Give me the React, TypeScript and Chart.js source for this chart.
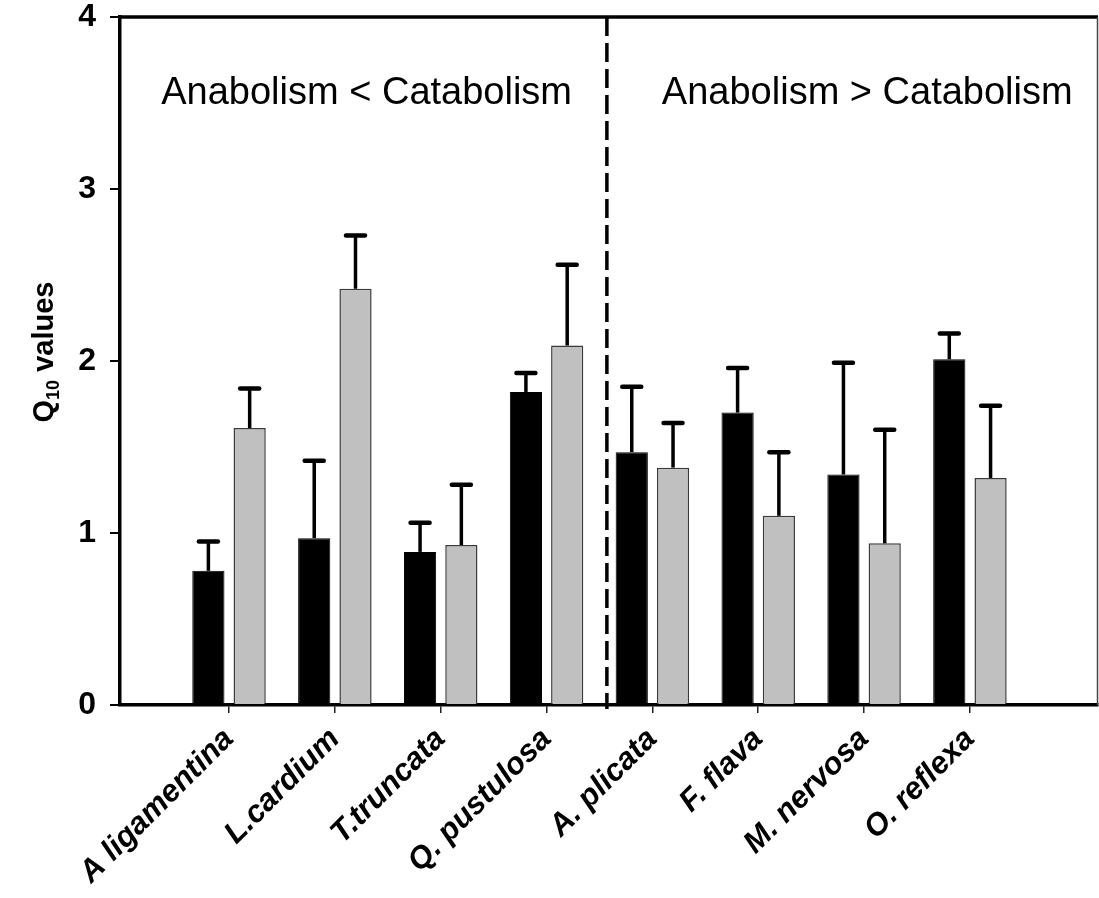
import React, { useEffect, useRef } from 'react';
import { Chart, registerables } from 'chart.js';

Chart.register(...registerables);

const categories = ['A ligamentina', 'L.cardium', 'T.truncata', 'Q. pustulosa', 'A. plicata', 'F. flava', 'M. nervosa', 'O. reflexa'];
const blackValues = [0.78, 0.97, 0.89, 1.82, 1.47, 1.70, 1.34, 2.01];
const blackErrors = [0.17, 0.45, 0.17, 0.11, 0.38, 0.26, 0.65, 0.15];
const grayValues = [1.61, 2.42, 0.93, 2.09, 1.38, 1.10, 0.94, 1.32];
const grayErrors = [0.23, 0.31, 0.35, 0.47, 0.26, 0.37, 0.66, 0.42];
const yTickValues = [0, 1, 2, 3, 4];
const regionLabels = ['Anabolism < Catabolism', 'Anabolism > Catabolism'];
const yTitleParts = ['Q', '10', ' values'];

const FONT = 'Arial, "Liberation Sans", sans-serif';

const errorBarsPlugin = {
  id: 'errorBars',
  afterDatasetsDraw(chart: any) {
    const { ctx } = chart;
    const yScale = chart.scales.y;
    const errs = [blackErrors, grayErrors];
    ctx.save();
    ctx.strokeStyle = '#000';
    chart.data.datasets.forEach((ds: any, d: number) => {
      const meta = chart.getDatasetMeta(d);
      meta.data.forEach((bar: any, i: number) => {
        const v = ds.data[i].y;
        const base = yScale.getPixelForValue(v);
        const top = yScale.getPixelForValue(v + errs[d][i]);
        ctx.lineCap = 'butt';
        ctx.lineWidth = 3.5;
        ctx.beginPath();
        ctx.moveTo(bar.x, base);
        ctx.lineTo(bar.x, top);
        ctx.stroke();
        ctx.lineCap = 'round';
        ctx.lineWidth = 4.5;
        ctx.beginPath();
        ctx.moveTo(bar.x - 9.5, top);
        ctx.lineTo(bar.x + 9.5, top);
        ctx.stroke();
      });
    });
    ctx.restore();
  },
};

const framePlugin = {
  id: 'frame',
  afterDraw(chart: any) {
    const { ctx, chartArea } = chart;
    const xScale = chart.scales.x;
    const yScale = chart.scales.y;
    ctx.save();
    // top border
    ctx.strokeStyle = '#000';
    ctx.lineWidth = 3.5;
    ctx.beginPath();
    ctx.moveTo(chartArea.left - 1.5, chartArea.top);
    ctx.lineTo(chartArea.right, chartArea.top);
    ctx.stroke();
    // right border
    ctx.strokeStyle = '#444';
    ctx.lineWidth = 1.5;
    ctx.beginPath();
    ctx.moveTo(chartArea.right - 0.5, chartArea.top);
    ctx.lineTo(chartArea.right - 0.5, chartArea.bottom);
    ctx.stroke();
    // dashed divider
    const dx = xScale.getPixelForValue(3.57);
    ctx.strokeStyle = '#000';
    ctx.lineWidth = 3.5;
    ctx.setLineDash([19, 7]);
    ctx.beginPath();
    ctx.moveTo(dx, chartArea.top);
    ctx.lineTo(dx, chartArea.bottom + 4);
    ctx.stroke();
    ctx.setLineDash([]);
    // region labels
    ctx.fillStyle = '#000';
    ctx.font = `38px ${FONT}`;
    ctx.textAlign = 'center';
    ctx.textBaseline = 'alphabetic';
    const ly = yScale.getPixelForValue(3.495);
    ctx.fillText(regionLabels[0], xScale.getPixelForValue(1.3), ly);
    ctx.fillText(regionLabels[1], xScale.getPixelForValue(6.03), ly);
    // y title with subscript
    ctx.translate(43, 352);
    ctx.rotate(-Math.PI / 2);
    const big = `bold 29px ${FONT}`;
    const small = `bold 18px ${FONT}`;
    ctx.font = big;
    const w1 = ctx.measureText(yTitleParts[0]).width;
    const w3 = ctx.measureText(yTitleParts[2]).width;
    ctx.font = small;
    const w2 = ctx.measureText(yTitleParts[1]).width;
    let sx = -(w1 + w2 + w3) / 2;
    ctx.textAlign = 'left';
    ctx.textBaseline = 'alphabetic';
    ctx.font = big;
    ctx.fillText(yTitleParts[0], sx, 10);
    sx += w1;
    ctx.font = small;
    ctx.fillText(yTitleParts[1], sx, 16);
    sx += w2;
    ctx.font = big;
    ctx.fillText(yTitleParts[2], sx, 10);
    ctx.restore();
  },
};

export default function App() {
  const canvasRef = useRef<HTMLCanvasElement | null>(null);

  useEffect(() => {
    if (!canvasRef.current) return;
    Chart.defaults.font.family = FONT;
    const chart = new Chart(canvasRef.current, {
      type: 'bar',
      data: {
        datasets: [
          {
            label: 'Anabolism',
            data: categories.map((_, i) => ({ x: i, y: blackValues[i] })),
            backgroundColor: '#000000',
            borderColor: '#000000',
            borderWidth: 1,
          },
          {
            label: 'Catabolism',
            data: categories.map((_, i) => ({ x: i, y: grayValues[i] })),
            backgroundColor: '#c0c0c0',
            borderColor: '#3a3a3a',
            borderWidth: 1.5,
          },
        ],
      },
      options: {
        animation: false,
        responsive: true,
        maintainAspectRatio: false,
        layout: { padding: { top: 17, right: 1, left: 0, bottom: 0 } },
        datasets: { bar: { barPercentage: 0.78, categoryPercentage: 0.78 } },
        plugins: {
          legend: { display: false },
          tooltip: { enabled: false },
        },
        scales: {
          x: {
            type: 'linear',
            min: -1.03,
            max: 8.21,
            offset: false,
            afterBuildTicks: (scale: any) => {
              scale.ticks = categories.map((_, i) => ({ value: i }));
            },
            afterFit: (scale: any) => {
              scale.height = 193;
              scale.paddingLeft = 0;
              scale.paddingRight = 0;
            },
            ticks: {
              autoSkip: false,
              minRotation: 45,
              maxRotation: 45,
              padding: 8,
              color: '#000',
              font: { size: 31, weight: 'bold', style: 'italic', family: FONT },
              callback: (value: any) => categories[Math.round(Number(value))] ?? '',
            },
            grid: {
              offset: false,
              drawOnChartArea: false,
              drawTicks: true,
              tickLength: 8,
              lineWidth: 1.5,
              color: '#222',
            },
            border: { display: true, color: '#000', width: 3.5 },
          },
          y: {
            type: 'linear',
            min: 0,
            max: 4,
            afterBuildTicks: (scale: any) => {
              scale.ticks = yTickValues.map((v) => ({ value: v }));
            },
            afterFit: (scale: any) => {
              scale.width = 120;
              scale.paddingTop = 0;
              scale.paddingBottom = 0;
            },
            ticks: {
              padding: 14,
              color: '#000',
              font: { size: 32, weight: 'bold', family: FONT },
            },
            grid: {
              drawOnChartArea: false,
              drawTicks: true,
              tickLength: 10,
              lineWidth: 2,
              color: '#000',
            },
            border: { display: true, color: '#000', width: 3.5 },
          },
        },
      },
      plugins: [errorBarsPlugin, framePlugin],
    } as any);
    return () => chart.destroy();
  }, []);

  return (
    <div style={{ position: 'fixed', left: 0, top: 0, width: 1099, height: 898, background: '#fff' }}>
      <canvas ref={canvasRef} />
    </div>
  );
}
